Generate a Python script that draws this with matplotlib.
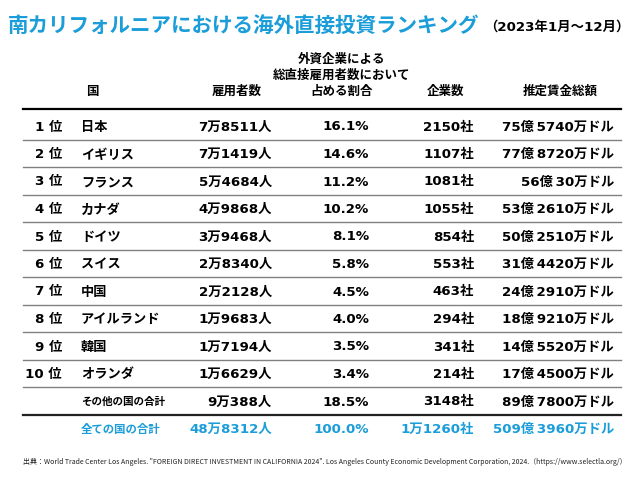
import matplotlib.pyplot as plt
from matplotlib.lines import Line2D

plt.rcParams['font.family'] = ['Noto Sans CJK JP', 'DejaVu Sans']
NUMFONT = ['DejaVu Sans', 'Noto Sans CJK JP']   # cifre larghe, kanji dal CJK

# --- dati (2023年1月～12月) ---
ranks = [1, 2, 3, 4, 5, 6, 7, 8, 9, 10]
countries = ['日本', 'イギリス', 'フランス', 'カナダ', 'ドイツ', 'スイス', '中国',
             'アイルランド', '韓国', 'オランダ']
employees = [78511, 71419, 54684, 49868, 39468, 28340, 22128, 19683, 17194, 16629]
shares = [16.1, 14.6, 11.2, 10.2, 8.1, 5.8, 4.5, 4.0, 3.5, 3.4]
companies = [2150, 1107, 1081, 1055, 854, 553, 463, 294, 341, 214]
wages_man = [755740, 778720, 560030, 532610, 502510, 314420, 242910, 189210, 145520, 174500]  # 万ドル

other_label = 'その他の国の合計'
other_vals = [90388, 18.5, 3148, 897800]
total_label = '全ての国の合計'
total_vals = [488312, 100.0, 11260, 5093960]

title = '南カリフォルニアにおける海外直接投資ランキング'
subtitle = '（2023年1月～12月）'
headers = ['国', '雇用者数', '外資企業による\n総直接雇用者数において\n占める割合', '企業数', '推定賃金総額']
source = ('出典：World Trade Center Los Angeles. "FOREIGN DIRECT INVESTMENT IN CALIFORNIA 2024". '
          'Los Angeles County Economic Development Corporation, 2024.（https://www.selectla.org/）')

BLUE = '#1a9dd8'


def fmt_people(n):
    return f'{n // 10000}万{n % 10000}人' if n >= 10000 else f'{n}人'


def fmt_comp(n):
    return f'{n // 10000}万{n % 10000}社' if n >= 10000 else f'{n}社'


def fmt_wage(m):
    oku, man = divmod(m, 10000)
    return f'{oku}億\u2009{man}万ドル'


fig = plt.figure(figsize=(6.4, 4.8), dpi=100)
ax = fig.add_axes([0, 0, 1, 1])
ax.set_xlim(0, 640)
ax.set_ylim(480, 0)
ax.axis('off')

# titolo
ax.text(8, 25, title, color=BLUE, fontsize=14.8, fontweight='bold', va='center', ha='left')
ax.text(484, 27, subtitle, color='black', fontsize=9.6, fontweight='bold', va='center', ha='left',
        family=NUMFONT)

# intestazioni
hx = [92, 237, 342, 446, 560]
for x, h in zip(hx, headers):
    ax.text(x, 98, h, ha='center', va='bottom', fontsize=9, fontweight='bold',
            linespacing=1.3, ma='center')

x0, x1 = 23, 621
col_rank, col_name, col_emp, col_share, col_comp, col_wage = 62, 81, 272, 369, 474, 614
y0, dy = 127, 27.5


def num(x, y, s, color='black'):
    ax.text(x, y, s, ha='right', va='center', fontsize=9.6, fontweight='bold',
            family=NUMFONT, color=color)


ax.add_line(Line2D([x0, x1], [109, 109], color='black', lw=1.6))

for i in range(len(ranks)):
    y = y0 + dy * i
    num(col_rank, y, f'{ranks[i]} 位')
    ax.text(col_name, y, countries[i], ha='left', va='center', fontsize=9.5, fontweight='bold')
    num(col_emp, y, fmt_people(employees[i]))
    num(col_share, y, f'{shares[i]:.1f}%')
    num(col_comp, y, fmt_comp(companies[i]))
    num(col_wage, y, fmt_wage(wages_man[i]))
    ax.add_line(Line2D([x0, x1], [y + 12.5, y + 12.5], color='#808080', lw=1.0))

# altri paesi
y = y0 + dy * 10
ax.text(col_name, y, other_label, ha='left', va='center', fontsize=7.6, fontweight='bold')
num(col_emp, y, fmt_people(other_vals[0]))
num(col_share, y, f'{other_vals[1]:.1f}%')
num(col_comp, y, fmt_comp(other_vals[2]))
num(col_wage, y, fmt_wage(other_vals[3]))
ax.add_line(Line2D([x0, x1], [y + 12.5, y + 12.5], color='#222222', lw=1.6))

# totale
y = y0 + dy * 11
ax.text(col_name, y, total_label, ha='left', va='center', fontsize=8.2, fontweight='bold', color=BLUE)
num(col_emp, y, fmt_people(total_vals[0]), BLUE)
num(col_share, y, f'{total_vals[1]:.1f}%', BLUE)
num(col_comp, y, fmt_comp(total_vals[2]), BLUE)
num(col_wage, y, fmt_wage(total_vals[3]), BLUE)

ax.text(x0, 462, source, ha='left', va='center', fontsize=5, color='#222222')

fig.savefig('out.png', dpi=100)
